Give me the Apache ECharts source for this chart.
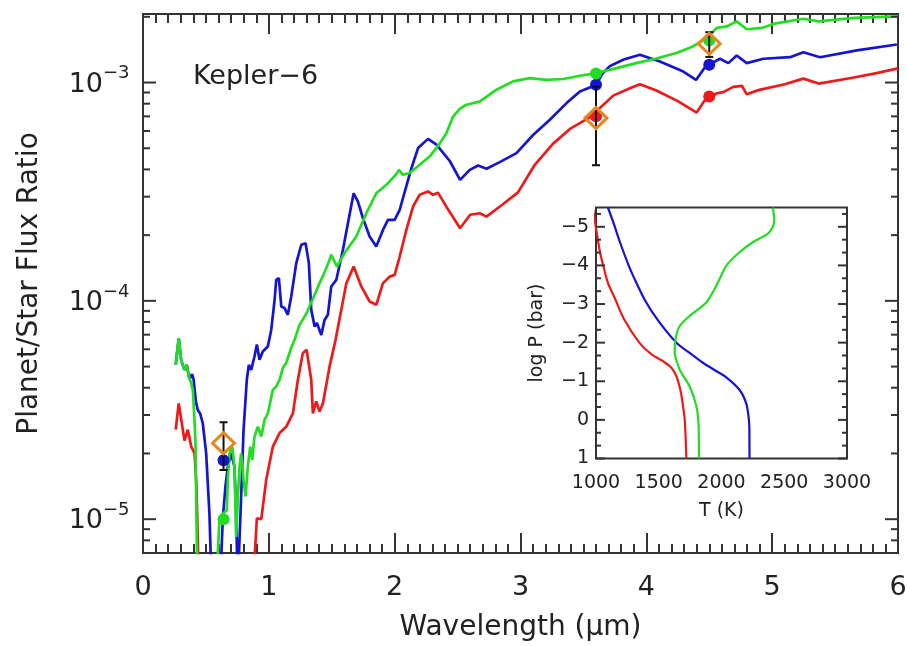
<!DOCTYPE html>
<html><head><meta charset="utf-8">
<script src="https://cdn.jsdelivr.net/npm/echarts@6/dist/echarts.min.js"></script>
<style>html,body{margin:0;padding:0;background:#fff}#c{width:907px;height:646px}</style>
</head><body><div id="c"></div>
<script>
// ---------- Main panel: planet/star flux ratio spectra ----------
const redX = [0.26,0.284,0.33,0.356,0.383,0.41,0.425,0.44,0.46,0.87,0.886,0.905,0.94,0.979,1.032,1.085,1.138,1.191,1.231,1.27,1.30,1.337,1.35,1.377,1.403,1.43,1.483,1.53,1.576,1.616,1.674,1.735,1.801,1.854,1.907,1.96,2.0,2.04,2.093,2.146,2.199,2.265,2.305,2.344,2.411,2.52,2.60,2.676,2.73,2.85,2.98,3.11,3.259,3.40,3.55,3.737,3.87,3.949,4.08,4.25,4.40,4.46,4.56,4.612,4.691,4.76,4.798,4.89,5.1,5.248,5.37,5.65,5.83,6.0];
const redY = [2.57e-5,3.39e-5,2.29e-5,2.57e-5,2.15e-5,2.00e-5,1.41e-5,6.3e-6,2.5e-6,2.5e-6,6.5e-6,1.01e-5,1.00e-5,1.51e-5,2.15e-5,2.48e-5,2.65e-5,3.05e-5,4.35e-5,5.75e-5,5.97e-5,4.35e-5,3.05e-5,3.46e-5,3.11e-5,3.40e-5,5.01e-5,6.61e-5,9.10e-5,1.205e-4,1.435e-4,1.164e-4,9.93e-5,9.59e-5,1.205e-4,1.291e-4,1.315e-4,1.596e-4,2.113e-4,2.704e-4,3.062e-4,3.17e-4,3.06e-4,3.13e-4,2.70e-4,2.15e-4,2.48e-4,2.52e-4,2.43e-4,2.74e-4,3.14e-4,4.17e-4,5.25e-4,6.17e-4,6.92e-4,8.71e-4,9.42e-4,9.82e-4,9.20e-4,8.22e-4,7.28e-4,8.22e-4,8.93e-4,9.04e-4,9.55e-4,9.66e-4,8.83e-4,9.23e-4,9.82e-4,1.042e-3,9.89e-4,1.054e-3,1.104e-3,1.161e-3];

const blueX = [0.26,0.284,0.303,0.329,0.348,0.369,0.39,0.402,0.42,0.435,0.454,0.475,0.502,0.528,0.545,0.58,0.61,0.62,0.634,0.655,0.674,0.70,0.727,0.74,0.753,0.765,0.78,0.799,0.825,0.841,0.86,0.886,0.905,0.926,0.952,0.992,1.019,1.045,1.059,1.08,1.099,1.125,1.151,1.178,1.218,1.258,1.292,1.318,1.337,1.364,1.382,1.417,1.443,1.469,1.496,1.536,1.589,1.629,1.674,1.708,1.748,1.801,1.854,1.907,1.947,2.0,2.04,2.08,2.133,2.186,2.265,2.332,2.438,2.52,2.597,2.663,2.73,2.835,2.968,3.1,3.233,3.366,3.472,3.6,3.65,3.71,3.82,3.949,4.108,4.294,4.395,4.466,4.5,4.585,4.652,4.718,4.798,4.93,5.142,5.248,5.381,5.673,5.991];
const blueY = [5.09e-5,6.75e-5,5.37e-5,4.83e-5,5.09e-5,4.37e-5,4.62e-5,4.37e-5,3.47e-5,3.16e-5,3.05e-5,2.75e-5,2.00e-5,1.06e-5,5.0e-6,2.5e-6,2.5e-6,6.3e-6,1.0e-5,1.41e-5,1.74e-5,2.00e-5,1.74e-5,1.06e-5,5.0e-6,5.0e-6,1.27e-5,2.56e-5,4.35e-5,5.09e-5,4.83e-5,5.56e-5,6.31e-5,5.37e-5,5.86e-5,6.18e-5,7.36e-5,1.0e-4,1.247e-4,1.27e-4,9.42e-5,9.27e-5,8.63e-5,1.047e-4,1.489e-4,1.807e-4,1.837e-4,1.489e-4,9.10e-5,7.62e-5,7.91e-5,6.98e-5,8.18e-5,8.63e-5,1.164e-4,1.247e-4,1.714e-4,2.27e-4,3.11e-4,2.85e-4,2.39e-4,1.972e-4,1.774e-4,2.113e-4,2.35e-4,2.35e-4,2.61e-4,3.16e-4,4.05e-4,5.01e-4,5.52e-4,5.19e-4,4.37e-4,3.58e-4,3.98e-4,4.17e-4,4.03e-4,4.32e-4,4.75e-4,5.75e-4,6.75e-4,8.05e-4,9.10e-4,9.75e-4,1.096e-3,1.189e-3,1.274e-3,1.34e-3,1.247e-3,1.122e-3,1.028e-3,1.175e-3,1.208e-3,1.285e-3,1.227e-3,1.33e-3,1.227e-3,1.285e-3,1.306e-3,1.377e-3,1.306e-3,1.403e-3,1.493e-3];

const greenX = [0.26,0.284,0.303,0.329,0.348,0.364,0.383,0.396,0.409,0.417,0.43,0.45,0.58,0.595,0.608,0.634,0.666,0.674,0.687,0.709,0.727,0.74,0.753,0.767,0.78,0.799,0.815,0.833,0.852,0.868,0.886,0.913,0.94,0.966,0.992,1.032,1.059,1.085,1.111,1.138,1.178,1.204,1.244,1.297,1.35,1.403,1.45,1.483,1.496,1.541,1.602,1.695,1.775,1.854,1.934,2.013,2.034,2.066,2.119,2.199,2.278,2.358,2.411,2.464,2.52,2.57,2.676,2.809,2.941,3.074,3.207,3.339,3.472,3.6,3.764,3.92,4.08,4.24,4.37,4.45,4.5,4.56,4.64,4.718,4.798,4.92,5.02,5.248,5.37,5.65,6.0];
const greenY = [5.09e-5,6.75e-5,5.37e-5,4.83e-5,5.09e-5,4.50e-5,4.20e-5,3.91e-5,2.85e-5,2.23e-5,6.3e-6,2.5e-6,2.5e-6,7.1e-6,1.0e-5,1.06e-5,1.10e-5,1.51e-5,2.00e-5,2.15e-5,1.74e-5,8.3e-6,1.23e-5,1.74e-5,2.00e-5,1.51e-5,1.27e-5,1.74e-5,2.15e-5,1.87e-5,2.39e-5,2.65e-5,2.39e-5,2.85e-5,3.05e-5,3.91e-5,4.05e-5,4.35e-5,4.92e-5,5.19e-5,6.10e-5,6.62e-5,7.76e-5,8.71e-5,1.023e-4,1.202e-4,1.380e-4,1.542e-4,1.626e-4,1.435e-4,1.656e-4,1.972e-4,2.52e-4,3.11e-4,3.40e-4,3.80e-4,3.98e-4,3.78e-4,3.85e-4,4.20e-4,4.58e-4,5.25e-4,5.86e-4,6.98e-4,7.59e-4,7.91e-4,8.18e-4,9.27e-4,1.012e-3,1.047e-3,1.028e-3,1.038e-3,1.074e-3,1.104e-3,1.164e-3,1.227e-3,1.288e-3,1.365e-3,1.462e-3,1.56e-3,1.64e-3,1.778e-3,1.807e-3,1.905e-3,1.754e-3,1.778e-3,1.862e-3,1.959e-3,1.905e-3,1.977e-3,2.009e-3];

// band-integrated model points
const modelRedX = [3.6, 4.5];        const modelRedY = [7.0e-4, 8.63e-4];
const modelBlueX = [0.64, 3.6, 4.5]; const modelBlueY = [1.86e-5, 9.76e-4, 1.205e-3];
const modelGreenX = [0.64, 3.6, 4.5]; const modelGreenY = [1.0e-5, 1.10e-3, 1.56e-3];

// observed eclipse depths with errors
const obsX = [0.64, 3.6, 4.5];
const obsY = [2.23e-5, 6.87e-4, 1.505e-3];
const obsErr = [0.55e-5, 2.69e-4, 1.95e-4];

// main y-axis (log) tick labels
const yTickValues = [1e-5, 1e-4, 1e-3];
const yTickExponents = ['\u22125', '\u22124', '\u22123'];

// ---------- Inset: T-P profiles ----------
const insetRedT = [975,1000,1032,1058,1095,1150,1225,1345,1440,1534,1601,1641,1665,1680,1700,1707,1715,1720];
const insetRedP = [-5.5,-4.97,-4.34,-3.99,-3.55,-3.15,-2.6,-2.0,-1.7,-1.52,-1.35,-1.13,-0.87,-0.65,-0.2,0,0.5,1.0];
const insetBlueT = [1095,1145,1191,1260,1296,1390,1500,1641,1760,1852,1950,2038,2143,2197,2215,2222,2223];
const insetBlueP = [-5.5,-5.05,-4.6,-4.0,-3.73,-3.1,-2.55,-2.0,-1.7,-1.48,-1.28,-1.1,-0.78,-0.43,-0.1,0.2,1.0];
const insetGreenT = [2408,2421,2410,2368,2249,2143,2038,1958,1879,1746,1667,1633,1627,1667,1746,1800,1818,1820];
const insetGreenP = [-5.5,-5.21,-5.0,-4.82,-4.6,-4.34,-3.99,-3.47,-3.04,-2.69,-2.43,-2.08,-1.74,-1.30,-0.87,-0.35,0.17,1.0];
const insetXTickLabels = ['1000','1500','2000','2500','3000'];
const insetYTickValues = [-5,-4,-3,-2,-1,0,1];
const insetYTickLabels = ['\u22125','\u22124','\u22123','\u22122','\u22121','0','1'];
const insetYMinorValues = [-5.333,-4.667,-4.333,-3.667,-3.333,-2.667,-2.333,-1.667,-1.333,-0.667,-0.333,0.333,0.667];

// ---------- styling ----------
const FONT = 'DejaVu Sans';
const INK = '#222';
const FRAME = '#333';
const C_RED = '#EE1A1A', C_BLUE = '#1414D2', C_GREEN = '#22DD22', C_ORANGE = '#E8861E';
const Y_MIN = 7.0e-6, Y_MAX = 2.06e-3;

const zip = (xs, ys) => xs.map((x, i) => [x, ys[i]]);

// log minor ticks (2..9 x 10^k) inside the y range
const yMinorValues = [];
for (let k = -6; k <= -3; k++) for (let m = 2; m <= 9; m++) {
  const v = m * Math.pow(10, k);
  if (v > Y_MIN && v < Y_MAX) yMinorValues.push(v);
}
const mainTickData = yTickValues.map((v, i) => [0, v, 1, i]).concat(yMinorValues.map(v => [0, v, 0, -1]));
const insetTickData = insetYTickValues.map((v, i) => [1000, v, 1, i]).concat(insetYMinorValues.map(v => [1000, v, 0, -1]));

function txt(text, x, y, size, align, valign) {
  return { type: 'text', style: { text, x, y, font: size + 'px "' + FONT + '"', fill: INK,
    align, verticalAlign: valign, textAlign: align, textVerticalAlign: valign } };
}
function ln(x1, y1, x2, y2, w, c) {
  return { type: 'line', shape: { x1, y1, x2, y2 }, style: { stroke: c || FRAME, lineWidth: w || 2 } };
}

const chart = echarts.init(document.getElementById('c'), null, { renderer: 'canvas' });

const xAxisMain = (pos, labels) => ({
  type: 'value', gridIndex: 0, position: pos, min: 0, max: 6, interval: 1,
  axisLine: { show: false }, splitLine: { show: false },
  axisTick: { show: true, inside: true, length: 20, lineStyle: { color: FRAME, width: 2 } },
  minorTick: { show: true, splitNumber: 10, length: 9, lineStyle: { color: FRAME, width: 2 } },
  axisLabel: { show: labels, fontFamily: FONT, fontSize: 27, color: INK, margin: 21 },
  name: labels ? 'Wavelength (\u03bcm)' : '', nameLocation: 'middle', nameGap: 61,
  nameTextStyle: { fontFamily: FONT, fontSize: 28, color: INK }
});
const xAxisInset = (pos, labels) => ({
  type: 'value', gridIndex: 1, position: pos, min: 1000, max: 3000, interval: 500,
  axisLine: { show: false }, splitLine: { show: false },
  axisTick: { show: true, inside: true, length: 9, lineStyle: { color: FRAME, width: 2 } },
  minorTick: { show: true, splitNumber: 5, length: 5, lineStyle: { color: FRAME, width: 2 } },
  axisLabel: { show: labels, fontFamily: FONT, fontSize: 19, color: INK, margin: 15,
    formatter: v => insetXTickLabels[Math.round((v - 1000) / 500)] },
  name: labels ? 'T (K)' : '', nameLocation: 'middle', nameGap: 43,
  nameTextStyle: { fontFamily: FONT, fontSize: 19, color: INK }
});

const option = {
  animation: false,
  backgroundColor: '#fff',
  grid: [
    { left: 143, right: 9, top: 14, bottom: 93, show: true, borderColor: FRAME, borderWidth: 2,
      backgroundColor: 'transparent', containLabel: false, outerBoundsMode: 'none' },
    { left: 596, top: 207.5, width: 251, height: 251, show: true, borderColor: FRAME, borderWidth: 2,
      backgroundColor: '#fff', z: 3, containLabel: false, outerBoundsMode: 'none' }
  ],
  xAxis: [ xAxisMain('bottom', true), xAxisMain('top', false), xAxisInset('bottom', true), xAxisInset('top', false) ],
  yAxis: [
    { type: 'log', logBase: 10, gridIndex: 0, min: Y_MIN, max: Y_MAX,
      axisLine: { show: false }, axisTick: { show: false }, axisLabel: { show: false }, splitLine: { show: false },
      name: 'Planet/Star Flux Ratio', nameLocation: 'middle', nameGap: 99, nameRotate: 90,
      nameTextStyle: { fontFamily: FONT, fontSize: 28, color: INK } },
    { type: 'value', gridIndex: 1, min: -5.5, max: 1, inverse: true,
      axisLine: { show: false }, axisTick: { show: false }, axisLabel: { show: false }, splitLine: { show: false },
      name: 'log P (bar)', nameLocation: 'middle', nameGap: 49, nameRotate: 90,
      nameTextStyle: { fontFamily: FONT, fontSize: 19, color: INK } }
  ],
  graphic: [
    { type: 'text', left: 193, top: 63, style: { text: 'Kepler\u22126', font: '27px "' + FONT + '"', fill: INK } }
  ],
  series: [
    { type: 'line', name: 'red', xAxisIndex: 0, yAxisIndex: 0, data: zip(redX, redY), showSymbol: false, clip: true,
      lineStyle: { color: C_RED, width: 2.7 }, z: 2 },
    { type: 'line', name: 'blue', xAxisIndex: 0, yAxisIndex: 0, data: zip(blueX, blueY), showSymbol: false, clip: true,
      lineStyle: { color: C_BLUE, width: 2.7 }, z: 2 },
    { type: 'line', name: 'green', xAxisIndex: 0, yAxisIndex: 0, data: zip(greenX, greenY), showSymbol: false, clip: true,
      lineStyle: { color: C_GREEN, width: 2.7 }, z: 2 },
    { type: 'scatter', xAxisIndex: 0, yAxisIndex: 0, data: zip(modelRedX, modelRedY), symbol: 'circle', symbolSize: 12, itemStyle: { color: C_RED, opacity: 1 }, z: 3 },
    { type: 'scatter', xAxisIndex: 0, yAxisIndex: 0, data: zip(modelBlueX, modelBlueY), symbol: 'circle', symbolSize: 12, itemStyle: { color: C_BLUE, opacity: 1 }, z: 3 },
    { type: 'scatter', xAxisIndex: 0, yAxisIndex: 0, data: zip(modelGreenX, modelGreenY), symbol: 'circle', symbolSize: 12, itemStyle: { color: C_GREEN, opacity: 1 }, z: 3 },
    { type: 'custom', xAxisIndex: 0, yAxisIndex: 0, z: 4,
      data: obsX.map((x, i) => [x, obsY[i], obsErr[i]]),
      renderItem: (params, api) => {
        const x = api.value(0), y = api.value(1), e = api.value(2);
        const t = api.coord([x, y + e]), b = api.coord([x, y - e]);
        return { type: 'group', children: [
          ln(t[0], t[1], b[0], b[1], 2, '#111'),
          ln(t[0] - 4, t[1], t[0] + 4, t[1], 2, '#111'),
          ln(b[0] - 4, b[1], b[0] + 4, b[1], 2, '#111') ] };
      } },
    { type: 'scatter', xAxisIndex: 0, yAxisIndex: 0, data: zip(obsX, obsY), symbol: 'diamond', symbolSize: [22, 21],
      itemStyle: { color: 'rgba(0,0,0,0)', borderColor: C_ORANGE, borderWidth: 3, opacity: 1 }, z: 5 },
    // main y-axis ticks + labels (log scale)
    { type: 'custom', xAxisIndex: 0, yAxisIndex: 0, z: 6, silent: true, data: mainTickData,
      renderItem: (params, api) => {
        const v = api.value(1), major = api.value(2), idx = api.value(3);
        const L = api.coord([0, v]), R = api.coord([6, v]);
        const len = major ? 13 : 7;
        const ch = [ ln(L[0], L[1], L[0] + len, L[1]), ln(R[0], R[1], R[0] - len, R[1]) ];
        if (major) {
          ch.push(txt('10', L[0] - 40, L[1] + 2, 27, 'right', 'middle'));
          ch.push(txt(yTickExponents[idx], L[0] - 40, L[1] - 9, 18, 'left', 'middle'));
        }
        return { type: 'group', children: ch };
      } },
    // inset profiles
    { type: 'line', xAxisIndex: 2, yAxisIndex: 1, data: zip(insetRedT, insetRedP), showSymbol: false, clip: true, smooth: 0.3,
      lineStyle: { color: C_RED, width: 2.2 }, z: 7 },
    { type: 'line', xAxisIndex: 2, yAxisIndex: 1, data: zip(insetBlueT, insetBlueP), showSymbol: false, clip: true, smooth: 0.3,
      lineStyle: { color: C_BLUE, width: 2.2 }, z: 7 },
    { type: 'line', xAxisIndex: 2, yAxisIndex: 1, data: zip(insetGreenT, insetGreenP), showSymbol: false, clip: true, smooth: 0.2,
      lineStyle: { color: C_GREEN, width: 2.2 }, z: 7 },
    // inset y-axis ticks + labels
    { type: 'custom', xAxisIndex: 2, yAxisIndex: 1, z: 8, silent: true, data: insetTickData,
      renderItem: (params, api) => {
        const v = api.value(1), major = api.value(2), idx = api.value(3);
        const L = api.coord([1000, v]), R = api.coord([3000, v]);
        const len = major ? 9 : 5;
        const ch = [ ln(L[0], L[1], L[0] + len, L[1]), ln(R[0], R[1], R[0] - len, R[1]) ];
        if (major) ch.push(txt(insetYTickLabels[idx], L[0] - 7, L[1], 19, 'right', 'middle'));
        return { type: 'group', children: ch };
      } }
  ]
};
chart.setOption(option);
</script>
</body></html>
